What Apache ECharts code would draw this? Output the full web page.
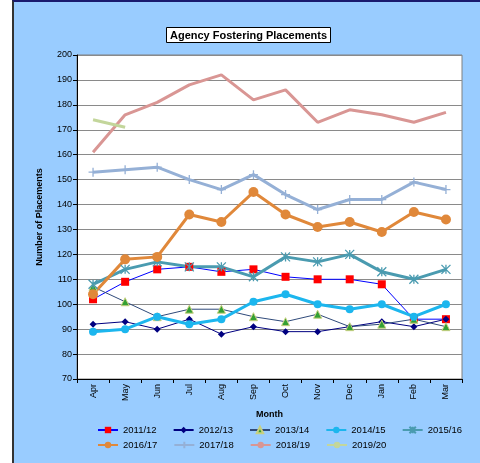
<!DOCTYPE html>
<html><head><meta charset="utf-8">
<script src="https://cdn.jsdelivr.net/npm/echarts@6/dist/echarts.min.js"></script>
<style>
html,body{margin:0;padding:0;background:#fff;}
#bg{position:absolute;left:12px;top:0;width:468px;height:463px;background:#99CCFF;border-left:2px solid #333;border-top:2px solid #1a1a6e;box-sizing:border-box;}
#c{position:absolute;left:0;top:0;width:480px;height:463px;}
</style></head>
<body>
<div id="bg"></div>
<div id="c"></div>
<script>
var months = ['Apr','May','Jun','Jul','Aug','Sep','Oct','Nov','Dec','Jan','Feb','Mar'];
var s2011 = [102,109,114,115,113,114,111,110,110,108,94,94];
var s2012 = [92,93,90,94,88,91,89,89,91,93,91,94];
var s2013 = [107,101,95,98,98,95,93,96,91,92,94,91];
var s2014 = [89,90,95,92,94,101,104,100,98,100,95,100];
var s2015 = [108,114,117,115,115,111,119,117,120,113,110,114];
var s2016 = [104,118,119,136,133,145,136,131,133,129,137,134];
var s2017 = [153,154,155,150,146,152,144,138,142,142,149,146];
var s2018 = [161,176,181,188,192,182,186,173,178,176,173,177];
var s2019 = [174,171];
var names = ['2011/12','2012/13','2013/14','2014/15','2015/16','2016/17','2017/18','2018/19','2019/20'];

var F = 'Liberation Sans, Arial, sans-serif';
var chart = echarts.init(document.getElementById('c'));
var star = 'path://M0 0 L10 10 M10 0 L0 10 M5 0 L5 10';
var plus = 'path://M5 0 L5 10 M0 5 L10 5';
function ln(name, data, color, width, symbol, size, mcolor, extra){
  var s = {name:name, type:'line', data:data, symbol:symbol, symbolSize:size, showSymbol:symbol!=='none',
    lineStyle:{color:color,width:width}, itemStyle:{color:mcolor||color}, animation:false};
  if (extra) for (var k in extra) s[k]=extra[k];
  return s;
}
var series = [
  ln(names[0], s2011, '#0000FF', 1, 'rect', 8, '#FF0000'),
  ln(names[1], s2012, '#000080', 1, 'diamond', 7, '#000080'),
  ln(names[2], s2013, '#2F4A7A', 1, 'triangle', 8, '#33A033', {itemStyle:{color:'#33A033',borderColor:'#C8D080',borderWidth:1}}),
  ln(names[3], s2014, '#1CB6EE', 3, 'circle', 8, '#1CB6EE'),
  ln(names[4], s2015, '#4A9BB0', 3, star, 9, '#4A9BB0', {itemStyle:{color:'#4A9BB0',borderColor:'#4A9BB0',borderWidth:1.3}}),
  ln(names[5], s2016, '#E0883A', 3, 'circle', 10, '#E0883A'),
  ln(names[6], s2017, '#95B0D6', 3, plus, 9, '#95B0D6', {itemStyle:{color:'#95B0D6',borderColor:'#95B0D6',borderWidth:1.3}}),
  ln(names[7], s2018, '#D99694', 3, 'none', 0),
  ln(names[8], s2019, '#C3D69B', 3, 'none', 0)
];
var legBase = {orient:'horizontal', left:97, padding:0, itemWidth:20, itemHeight:8, itemGap:16,
  textStyle:{fontFamily:F,fontSize:9.5,color:'#000'}};
chart.setOption({
  animation:false,
  textStyle:{fontFamily:F},
  title:{text:'Agency Fostering Placements', left:166, top:27, backgroundColor:'#fff', borderColor:'#000', borderWidth:1,
    padding:[3,4,2,4], textStyle:{fontFamily:F,fontSize:11,fontWeight:'bold',color:'#000'}},
  grid:{left:77, right:18, top:55, bottom:84, show:true, backgroundColor:'#fff', borderColor:'#808080', borderWidth:1},
  legend:[
    Object.assign({}, legBase, {top:425, data:names.slice(0,5)}),
    Object.assign({}, legBase, {top:440, data:names.slice(5)})
  ],
  xAxis:{type:'category', data:months, boundaryGap:true,
    name:'Month', nameLocation:'middle', nameGap:31, nameTextStyle:{fontFamily:F,fontSize:9,fontWeight:'bold',color:'#000'},
    axisLine:{lineStyle:{color:'#000'}}, axisTick:{show:true,length:4,lineStyle:{color:'#000'}},
    axisLabel:{rotate:90, fontSize:9, color:'#000', fontFamily:F, margin:5}},
  yAxis:{type:'value', min:70, max:200, interval:10,
    name:'Number of Placements', nameLocation:'middle', nameGap:33, nameRotate:90,
    nameTextStyle:{fontFamily:F,fontSize:9,fontWeight:'bold',color:'#000'},
    axisLine:{show:true,lineStyle:{color:'#000'}}, axisTick:{show:true,length:4,lineStyle:{color:'#000'}},
    axisLabel:{fontSize:9, color:'#000', fontFamily:F, margin:5},
    splitLine:{lineStyle:{color:'#8a8a8a', width:1}}},
  series:series
});
</script>
</body></html>
